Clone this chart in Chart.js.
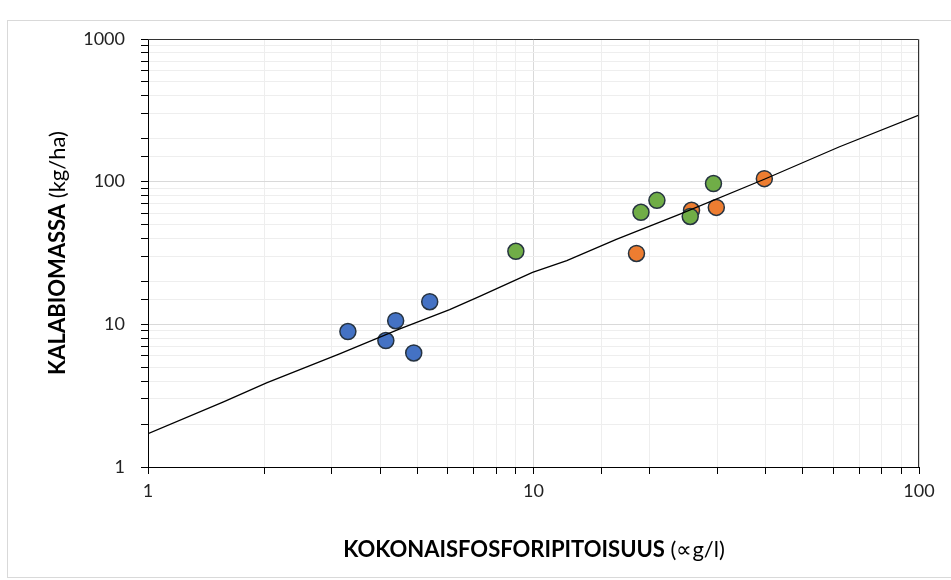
<!DOCTYPE html>
<html>
<head>
<meta charset="utf-8">
<script src="https://cdn.jsdelivr.net/npm/chart.js@4"></script>
<style>
  html, body { margin: 0; padding: 0; background: #fff; }
  #wrap { position: relative; width: 951px; height: 580px; }
</style>
</head>
<body>
<div id="wrap"><canvas id="fishChart" width="951" height="580"></canvas></div>
<script>
// sample groups (total phosphorus µg/l, fish biomass kg/ha)
const blueP = [3.3, 4.14, 4.39, 4.89, 5.38];
const blueB = [8.9, 7.7, 10.6, 6.3, 14.4];
const greenP = [9.0, 19.0, 20.9, 25.5, 29.3];
const greenB = [32.5, 61, 74, 57, 97];
const orangeP = [18.5, 25.7, 29.8, 39.7];
const orangeB = [31.4, 63, 66, 105];
// fitted curve
const fitP = [1, 1.57, 2.03, 3.14, 4.5, 6.06, 7.25, 9.94, 12.2, 16.4, 23.9, 39.7, 62, 100];
const fitB = [1.71, 2.86, 3.89, 6.2, 9.3, 12.7, 15.7, 23.1, 28, 39.4, 59, 104, 175, 293];
const decadeLabels = [1, 10, 100, 1000];

const FONT = 'Lato, "Open Sans", sans-serif';

function pairs(xs, ys) {
    return xs.map((x, i) => ({ x: x, y: ys[i] }));
}

function isDecade(v) {
    return decadeLabels.indexOf(v) !== -1;
}

function gridColor(ctx) {
    if (!ctx.tick) return '#eeeeee';
    return isDecade(ctx.tick.value) ? '#d9d9d9' : '#eeeeee';
}

const frame = {
    id: 'frame',
    beforeDraw(chart) {
        const c = chart.ctx;
        c.save();
        c.strokeStyle = '#d9d9d9';
        c.lineWidth = 1;
        c.strokeRect(7.5, 20.5, 950, 557);
        c.restore();
    },
    afterDatasetsDraw(chart) {
        const a = chart.chartArea;
        const c = chart.ctx;
        c.save();
        c.strokeStyle = '#333';
        c.lineWidth = 1;
        c.beginPath();
        c.moveTo(a.left, a.top + 0.5);
        c.lineTo(a.right - 0.5, a.top + 0.5);
        c.lineTo(a.right - 0.5, a.bottom);
        c.stroke();
        c.restore();
    },
    afterDraw(chart) {
        const c = chart.ctx;
        const a = chart.chartArea;
        c.save();
        c.fillStyle = '#000';
        c.textBaseline = 'middle';
        // x title
        drawMixed(c, 'KOKONAISFOSFORIPITOISUUS', ' (∝g/l)', 534, 550, 22);
        // y title
        c.translate(58, 253);
        c.rotate(-Math.PI / 2);
        drawMixed(c, 'KALABIOMASSA', ' (kg/ha)', 0, 0, 22);
        c.restore();
    }
};

function drawMixed(c, boldPart, plainPart, cx, cy, size) {
    c.font = 'bold ' + size + 'px ' + FONT;
    const w1 = c.measureText(boldPart).width;
    c.font = size + 'px ' + FONT;
    const w2 = c.measureText(plainPart).width;
    let x = cx - (w1 + w2) / 2;
    c.textAlign = 'left';
    c.font = 'bold ' + size + 'px ' + FONT;
    c.fillText(boldPart, x, cy);
    c.font = size + 'px ' + FONT;
    c.fillText(plainPart, x + w1, cy);
}

const ctx = document.getElementById('fishChart').getContext('2d');
const chart = new Chart(ctx, {
    type: 'scatter',
    data: {
        datasets: [
            {
                label: 'Sovitus',
                type: 'line',
                data: pairs(fitP, fitB),
                borderColor: '#000',
                borderWidth: 1.3,
                pointRadius: 0,
                fill: false,
                tension: 0,
                order: 0
            },
            {
                label: 'Ryhmä 1',
                data: pairs(blueP, blueB),
                backgroundColor: '#4472C4',
                borderColor: '#263340',
                borderWidth: 1.5,
                pointRadius: 8,
                order: 1
            },
            {
                label: 'Ryhmä 2',
                data: pairs(greenP, greenB),
                backgroundColor: '#70AD47',
                borderColor: '#263340',
                borderWidth: 1.5,
                pointRadius: 8,
                order: 1
            },
            {
                label: 'Ryhmä 3',
                data: pairs(orangeP, orangeB),
                backgroundColor: '#ED7D31',
                borderColor: '#263340',
                borderWidth: 1.5,
                pointRadius: 8,
                order: 1
            }
        ]
    },
    options: {
        responsive: false,
        animation: false,
        layout: { padding: { left: 0, top: 39, right: 32, bottom: 0 } },
        plugins: {
            legend: { display: false },
            tooltip: { enabled: false }
        },
        scales: {
            x: {
                type: 'logarithmic',
                min: 1,
                max: 100,
                afterFit: s => { s.height = 113; },
                border: { display: true, color: '#000', width: 1 },
                grid: { color: gridColor, tickColor: '#000', tickLength: 7 },
                ticks: {
                    autoSkip: false,
                    maxRotation: 0,
                    padding: 6,
                    color: '#222',
                    font: { family: FONT, size: 18 },
                    callback: v => isDecade(v) ? String(v) : ''
                }
            },
            y: {
                type: 'logarithmic',
                min: 1,
                max: 1000,
                afterFit: s => { s.width = 148; },
                border: { display: true, color: '#000', width: 1 },
                grid: { color: gridColor, tickColor: '#000', tickLength: 7 },
                ticks: {
                    autoSkip: false,
                    padding: 16,
                    color: '#222',
                    font: { family: FONT, size: 18 },
                    callback: v => isDecade(v) ? String(v) : ''
                }
            }
        }
    },
    plugins: [frame]
});
</script>
</body>
</html>
